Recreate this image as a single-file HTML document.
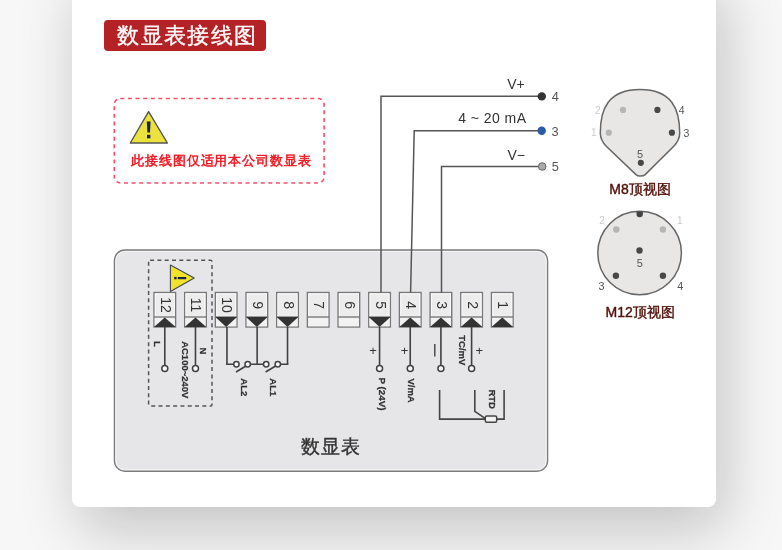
<!DOCTYPE html>
<html><head><meta charset="utf-8"><style>
html,body{margin:0;padding:0;}
body{width:782px;height:550px;overflow:hidden;position:relative;background:#f7f7f7;font-family:"Liberation Sans", sans-serif;}
.card{position:absolute;left:72px;top:-30px;width:644px;height:536.5px;background:#fff;border-radius:8px;box-shadow:8px 22px 60px rgba(20,10,10,0.22);}
.badge{position:absolute;left:104.3px;top:20.2px;width:162.4px;height:31.1px;background:#b52225;border-radius:4px;will-change:transform;}
.badge span{position:absolute;left:13.1px;top:0.1px;line-height:31px;font-size:21.6px;letter-spacing:1.45px;color:#fff;-webkit-text-stroke:0.35px #fff;white-space:nowrap;}
.dia{position:absolute;left:0;top:0;will-change:transform;}
</style></head><body>
<div class="card"></div>
<div class="badge"><span>数显表接线图</span></div>
<svg class="dia" width="782" height="550" viewBox="0 0 782 550" font-family='"Liberation Sans", sans-serif'>
<rect x="114.4" y="250" width="433.2" height="221.2" rx="10.5" fill="#e6e6e8" stroke="#7c7c7c" stroke-width="1.35"/>
<rect x="115.9" y="251.5" width="430.2" height="218.2" rx="9" fill="none" stroke="rgba(255,255,255,0.55)" stroke-width="1"/>
<rect x="148.6" y="260.2" width="63.4" height="145.9" rx="1.5" fill="none" stroke="#555" stroke-width="1.5" stroke-dasharray="4 3.3"/>
<rect x="114.3" y="98.5" width="209.8" height="84.5" rx="6" fill="none" stroke="#f0506a" stroke-width="1.6" stroke-dasharray="4 3.6"/>
<path d="M148.6 111.6 L167.4 143 L130.3 143 Z" fill="#ece23e" stroke="#555" stroke-width="1.4" stroke-linejoin="round"/>
<path d="M146.8 121.6 H150.6 L150 132.6 H147.4 Z" fill="#1b1f45"/>
<rect x="147" y="134.8" width="3.4" height="3.5" fill="#1b1f45"/>
<path d="M170.4 265 L194.2 278 L170.4 291.4 Z" fill="#f1e32a" stroke="#45465e" stroke-width="1.1" stroke-linejoin="round"/>
<rect x="174.2" y="276.9" width="2.4" height="2.4" fill="#1b1f45"/>
<rect x="177.8" y="277" width="8.4" height="2.2" fill="#1b1f45"/>
<rect x="154" y="292.5" width="21.6" height="34.5" fill="#ececec" stroke="#777" stroke-width="1.4"/><rect x="155.3" y="293.8" width="19" height="22.5" fill="none" stroke="#fafafa" stroke-width="1"/><rect x="154.7" y="317" width="20.2" height="9.3" fill="#f2f2f2"/><line x1="154" y1="317" x2="175.6" y2="317" stroke="#777" stroke-width="1.4"/><path d="M154 327 L164.8 317.5 L175.6 327 Z" fill="#333"/><text x="165.8" y="305.05" transform="rotate(90 165.8 305.05)" text-anchor="middle" dominant-baseline="central" font-size="14" fill="#333">12</text><rect x="184.68" y="292.5" width="21.6" height="34.5" fill="#ececec" stroke="#777" stroke-width="1.4"/><rect x="185.98" y="293.8" width="19" height="22.5" fill="none" stroke="#fafafa" stroke-width="1"/><rect x="185.38" y="317" width="20.2" height="9.3" fill="#f2f2f2"/><line x1="184.68" y1="317" x2="206.28" y2="317" stroke="#777" stroke-width="1.4"/><path d="M184.68 327 L195.48 317.5 L206.28 327 Z" fill="#333"/><text x="196.48" y="305.05" transform="rotate(90 196.48 305.05)" text-anchor="middle" dominant-baseline="central" font-size="14" fill="#333">11</text><rect x="215.36" y="292.5" width="21.6" height="34.5" fill="#ececec" stroke="#777" stroke-width="1.4"/><rect x="216.66" y="293.8" width="19" height="22.5" fill="none" stroke="#fafafa" stroke-width="1"/><rect x="216.06" y="317" width="20.2" height="9.3" fill="#f2f2f2"/><line x1="215.36" y1="317" x2="236.96" y2="317" stroke="#777" stroke-width="1.4"/><path d="M215.36 317 L226.16 327 L236.96 317 Z" fill="#333"/><text x="227.16" y="305.05" transform="rotate(90 227.16 305.05)" text-anchor="middle" dominant-baseline="central" font-size="14" fill="#333">10</text><rect x="246.04" y="292.5" width="21.6" height="34.5" fill="#ececec" stroke="#777" stroke-width="1.4"/><rect x="247.34" y="293.8" width="19" height="22.5" fill="none" stroke="#fafafa" stroke-width="1"/><rect x="246.74" y="317" width="20.2" height="9.3" fill="#f2f2f2"/><line x1="246.04" y1="317" x2="267.64" y2="317" stroke="#777" stroke-width="1.4"/><path d="M246.04 317 L256.84 327 L267.64 317 Z" fill="#333"/><text x="257.84" y="305.05" transform="rotate(90 257.84 305.05)" text-anchor="middle" dominant-baseline="central" font-size="14" fill="#333">9</text><rect x="276.72" y="292.5" width="21.6" height="34.5" fill="#ececec" stroke="#777" stroke-width="1.4"/><rect x="278.02" y="293.8" width="19" height="22.5" fill="none" stroke="#fafafa" stroke-width="1"/><rect x="277.42" y="317" width="20.2" height="9.3" fill="#f2f2f2"/><line x1="276.72" y1="317" x2="298.32" y2="317" stroke="#777" stroke-width="1.4"/><path d="M276.72 317 L287.52 327 L298.32 317 Z" fill="#333"/><text x="288.52" y="305.05" transform="rotate(90 288.52 305.05)" text-anchor="middle" dominant-baseline="central" font-size="14" fill="#333">8</text><rect x="307.4" y="292.5" width="21.6" height="34.5" fill="#ececec" stroke="#777" stroke-width="1.4"/><rect x="308.7" y="293.8" width="19" height="22.5" fill="none" stroke="#fafafa" stroke-width="1"/><rect x="308.1" y="317" width="20.2" height="9.3" fill="#f2f2f2"/><line x1="307.4" y1="317" x2="329" y2="317" stroke="#777" stroke-width="1.4"/><text x="319.2" y="305.05" transform="rotate(90 319.2 305.05)" text-anchor="middle" dominant-baseline="central" font-size="14" fill="#333">7</text><rect x="338.08" y="292.5" width="21.6" height="34.5" fill="#ececec" stroke="#777" stroke-width="1.4"/><rect x="339.38" y="293.8" width="19" height="22.5" fill="none" stroke="#fafafa" stroke-width="1"/><rect x="338.78" y="317" width="20.2" height="9.3" fill="#f2f2f2"/><line x1="338.08" y1="317" x2="359.68" y2="317" stroke="#777" stroke-width="1.4"/><text x="349.88" y="305.05" transform="rotate(90 349.88 305.05)" text-anchor="middle" dominant-baseline="central" font-size="14" fill="#333">6</text><rect x="368.76" y="292.5" width="21.6" height="34.5" fill="#ececec" stroke="#777" stroke-width="1.4"/><rect x="370.06" y="293.8" width="19" height="22.5" fill="none" stroke="#fafafa" stroke-width="1"/><rect x="369.46" y="317" width="20.2" height="9.3" fill="#f2f2f2"/><line x1="368.76" y1="317" x2="390.36" y2="317" stroke="#777" stroke-width="1.4"/><path d="M368.76 317 L379.56 327 L390.36 317 Z" fill="#333"/><text x="380.56" y="305.05" transform="rotate(90 380.56 305.05)" text-anchor="middle" dominant-baseline="central" font-size="14" fill="#333">5</text><rect x="399.44" y="292.5" width="21.6" height="34.5" fill="#ececec" stroke="#777" stroke-width="1.4"/><rect x="400.74" y="293.8" width="19" height="22.5" fill="none" stroke="#fafafa" stroke-width="1"/><rect x="400.14" y="317" width="20.2" height="9.3" fill="#f2f2f2"/><line x1="399.44" y1="317" x2="421.04" y2="317" stroke="#777" stroke-width="1.4"/><path d="M399.44 327 L410.24 317.5 L421.04 327 Z" fill="#333"/><text x="411.24" y="305.05" transform="rotate(90 411.24 305.05)" text-anchor="middle" dominant-baseline="central" font-size="14" fill="#333">4</text><rect x="430.12" y="292.5" width="21.6" height="34.5" fill="#ececec" stroke="#777" stroke-width="1.4"/><rect x="431.42" y="293.8" width="19" height="22.5" fill="none" stroke="#fafafa" stroke-width="1"/><rect x="430.82" y="317" width="20.2" height="9.3" fill="#f2f2f2"/><line x1="430.12" y1="317" x2="451.72" y2="317" stroke="#777" stroke-width="1.4"/><path d="M430.12 327 L440.92 317.5 L451.72 327 Z" fill="#333"/><text x="441.92" y="305.05" transform="rotate(90 441.92 305.05)" text-anchor="middle" dominant-baseline="central" font-size="14" fill="#333">3</text><rect x="460.8" y="292.5" width="21.6" height="34.5" fill="#ececec" stroke="#777" stroke-width="1.4"/><rect x="462.1" y="293.8" width="19" height="22.5" fill="none" stroke="#fafafa" stroke-width="1"/><rect x="461.5" y="317" width="20.2" height="9.3" fill="#f2f2f2"/><line x1="460.8" y1="317" x2="482.4" y2="317" stroke="#777" stroke-width="1.4"/><path d="M460.8 327 L471.6 317.5 L482.4 327 Z" fill="#333"/><text x="472.6" y="305.05" transform="rotate(90 472.6 305.05)" text-anchor="middle" dominant-baseline="central" font-size="14" fill="#333">2</text><rect x="491.48" y="292.5" width="21.6" height="34.5" fill="#ececec" stroke="#777" stroke-width="1.4"/><rect x="492.78" y="293.8" width="19" height="22.5" fill="none" stroke="#fafafa" stroke-width="1"/><rect x="492.18" y="317" width="20.2" height="9.3" fill="#f2f2f2"/><line x1="491.48" y1="317" x2="513.08" y2="317" stroke="#777" stroke-width="1.4"/><path d="M491.48 327 L502.28 317.5 L513.08 327 Z" fill="#333"/><text x="503.28" y="305.05" transform="rotate(90 503.28 305.05)" text-anchor="middle" dominant-baseline="central" font-size="14" fill="#333">1</text>
<line x1="164.8" y1="327" x2="164.8" y2="365.3" stroke="#404040" stroke-width="1.6"/><circle cx="164.8" cy="368.4" r="3" fill="#f8f8f8" stroke="#404040" stroke-width="1.5"/><line x1="195.48" y1="327" x2="195.48" y2="365.3" stroke="#404040" stroke-width="1.6"/><circle cx="195.48" cy="368.4" r="3" fill="#f8f8f8" stroke="#404040" stroke-width="1.5"/><line x1="226.96" y1="327" x2="226.96" y2="364.2" stroke="#404040" stroke-width="1.6"/><line x1="257.14" y1="327" x2="257.14" y2="364.2" stroke="#404040" stroke-width="1.6"/><line x1="287.52" y1="327" x2="287.52" y2="364.2" stroke="#404040" stroke-width="1.6"/><path d="M226.06 364.2 H233.7 M250.4 364.2 H263.5 M280.5 364.2 H288.42" stroke="#404040" stroke-width="1.6" fill="none"/><circle cx="236.4" cy="364.2" r="2.7" fill="#f8f8f8" stroke="#404040" stroke-width="1.5"/><circle cx="247.7" cy="364.2" r="2.7" fill="#f8f8f8" stroke="#404040" stroke-width="1.5"/><circle cx="266.2" cy="364.2" r="2.7" fill="#f8f8f8" stroke="#404040" stroke-width="1.5"/><circle cx="277.8" cy="364.2" r="2.7" fill="#f8f8f8" stroke="#404040" stroke-width="1.5"/><line x1="236" y1="372" x2="246" y2="366" stroke="#404040" stroke-width="1.6"/><line x1="265.6" y1="372" x2="275.6" y2="366" stroke="#404040" stroke-width="1.6"/><line x1="379.56" y1="327" x2="379.56" y2="365.6" stroke="#404040" stroke-width="1.6"/><circle cx="379.56" cy="368.6" r="3" fill="#f8f8f8" stroke="#404040" stroke-width="1.5"/><line x1="410.24" y1="327" x2="410.24" y2="365.6" stroke="#404040" stroke-width="1.6"/><circle cx="410.24" cy="368.6" r="3" fill="#f8f8f8" stroke="#404040" stroke-width="1.5"/><line x1="440.92" y1="327" x2="440.92" y2="365.6" stroke="#404040" stroke-width="1.6"/><circle cx="440.92" cy="368.6" r="3" fill="#f8f8f8" stroke="#404040" stroke-width="1.5"/><line x1="471.6" y1="327" x2="471.6" y2="365.6" stroke="#404040" stroke-width="1.6"/><circle cx="471.6" cy="368.6" r="3" fill="#f8f8f8" stroke="#404040" stroke-width="1.5"/><path d="M541.8 96.3 H381 V292.5" fill="none" stroke="#555" stroke-width="1.5"/><path d="M541.7 130.8 H414.2 L410.6 292.5" fill="none" stroke="#555" stroke-width="1.5"/><path d="M542.2 166.4 H441.5 V292.5" fill="none" stroke="#555" stroke-width="1.5"/><circle cx="541.8" cy="96.4" r="4.2" fill="#333"/><circle cx="541.7" cy="130.8" r="4.2" fill="#2b5aa6"/><circle cx="542.2" cy="166.5" r="3.8" fill="#aaa" stroke="#666" stroke-width="1"/><path d="M439.6 390 V419.1 H485.5 M474.8 390 V411.4 L485.5 418.6 M504.1 390 V419.1 H496.5" fill="none" stroke="#444" stroke-width="1.6"/><rect x="485.3" y="416" width="11.4" height="6.2" rx="1.5" fill="#f2f2f2" stroke="#444" stroke-width="1.5"/>
<text x="157.2" y="343.9" transform="rotate(90 157.2 343.9)" text-anchor="middle" dominant-baseline="central" font-size="9.5" font-weight="bold" fill="#333" stroke="#333" stroke-width="0.25">L</text><text x="203.6" y="351" transform="rotate(90 203.6 351)" text-anchor="middle" dominant-baseline="central" font-size="9.5" font-weight="bold" fill="#333" stroke="#333" stroke-width="0.25">N</text><text x="185.3" y="369.8" transform="rotate(90 185.3 369.8)" text-anchor="middle" dominant-baseline="central" font-size="9.5" font-weight="bold" fill="#333" stroke="#333" stroke-width="0.25">AC100~240V</text><text x="244.7" y="387.3" transform="rotate(90 244.7 387.3)" text-anchor="middle" dominant-baseline="central" font-size="9.5" font-weight="bold" fill="#333" stroke="#333" stroke-width="0.25">AL2</text><text x="273.1" y="387.3" transform="rotate(90 273.1 387.3)" text-anchor="middle" dominant-baseline="central" font-size="9.5" font-weight="bold" fill="#333" stroke="#333" stroke-width="0.25">AL1</text><text x="382.6" y="394" transform="rotate(90 382.6 394)" text-anchor="middle" dominant-baseline="central" font-size="9.8" font-weight="bold" fill="#333" stroke="#333" stroke-width="0.25">P (24V)</text><text x="411.5" y="390.6" transform="rotate(90 411.5 390.6)" text-anchor="middle" dominant-baseline="central" font-size="9.5" font-weight="bold" fill="#333" stroke="#333" stroke-width="0.25">V/mA</text><text x="462.5" y="350.3" transform="rotate(90 462.5 350.3)" text-anchor="middle" dominant-baseline="central" font-size="9.5" font-weight="bold" fill="#333" stroke="#333" stroke-width="0.25">TC/mV</text><text x="492.2" y="399.2" transform="rotate(90 492.2 399.2)" text-anchor="middle" dominant-baseline="central" font-size="9.5" font-weight="bold" fill="#333" stroke="#333" stroke-width="0.25">RTD</text><text x="373" y="350.8" text-anchor="middle" dominant-baseline="central" font-size="13" fill="#333">+</text><text x="404.6" y="350.8" text-anchor="middle" dominant-baseline="central" font-size="13" fill="#333">+</text><text x="479.4" y="350.8" text-anchor="middle" dominant-baseline="central" font-size="13" fill="#333">+</text><line x1="434.8" y1="344" x2="434.8" y2="356.6" stroke="#333" stroke-width="1.3"/><text x="507.2" y="89.4" font-size="14" fill="#333">V+</text><text x="458.2" y="123.2" font-size="14" letter-spacing="0.45" fill="#333">4 ~ 20 mA</text><text x="507.5" y="160" font-size="14" fill="#333">V&#8722;</text><text x="551.8" y="101" font-size="12.8" fill="#555">4</text><text x="551.4" y="135.5" font-size="12.8" fill="#555">3</text><text x="551.8" y="171.2" font-size="12.8" fill="#555">5</text>
<path d="M640 89.4 C671.8 89.4 679.7 109 679.7 133 C679.7 139 677 143 673.5 146.5 L645.2 174.6 C643 176.6 638.2 176.6 636 174.6 L606.5 146.5 C603 143 600.3 139 600.3 133 C600.3 109 608.2 89.4 640 89.4 Z" fill="#e9e7e5" stroke="#666" stroke-width="1.5"/><circle cx="623" cy="109.9" r="3.1" fill="#b5b5b5"/><circle cx="608.8" cy="132.7" r="3.1" fill="#b5b5b5"/><circle cx="657.4" cy="109.9" r="3.1" fill="#484848"/><circle cx="671.9" cy="132.7" r="3.1" fill="#484848"/><circle cx="640.8" cy="162.8" r="3.1" fill="#484848"/><text x="597.8" y="113.7" text-anchor="middle" font-size="10" fill="#cacaca">2</text><text x="593.9" y="135.9" text-anchor="middle" font-size="10" fill="#cacaca">1</text><text x="681.6" y="113.6" text-anchor="middle" font-size="10.5" fill="#555">4</text><text x="686.5" y="136.5" text-anchor="middle" font-size="10.5" fill="#555">3</text><text x="640" y="158" text-anchor="middle" font-size="11" fill="#555">5</text><text x="640" y="193.7" text-anchor="middle" font-size="14" fill="#52100a" stroke="#52100a" stroke-width="0.4">M8顶视图</text><circle cx="639.6" cy="253" r="41.8" fill="#e9e7e5" stroke="#666" stroke-width="1.5"/><path d="M636.5 211.5 V214 A3.2 3.2 0 0 0 642.9 214 V211.5 Z" fill="#444"/><circle cx="616.3" cy="229.5" r="3.2" fill="#b5b5b5"/><circle cx="662.9" cy="229.5" r="3.2" fill="#b5b5b5"/><circle cx="639.5" cy="250.5" r="3.2" fill="#484848"/><circle cx="615.9" cy="275.8" r="3.2" fill="#484848"/><circle cx="662.9" cy="275.8" r="3.2" fill="#484848"/><text x="602.1" y="224.2" text-anchor="middle" font-size="10" fill="#cacaca">2</text><text x="679.8" y="224.2" text-anchor="middle" font-size="10" fill="#cacaca">1</text><text x="639.7" y="266.8" text-anchor="middle" font-size="11" fill="#555">5</text><text x="601.6" y="290.2" text-anchor="middle" font-size="10.8" fill="#555">3</text><text x="680.2" y="290.2" text-anchor="middle" font-size="10.8" fill="#555">4</text><text x="640.1" y="317.4" text-anchor="middle" font-size="14" fill="#52100a" stroke="#52100a" stroke-width="0.4">M12顶视图</text>
<text x="331.2" y="452.9" text-anchor="middle" font-size="18.6" letter-spacing="1.2" fill="#333" stroke="#333" stroke-width="0.4">数显表</text>
<text x="130.8" y="165.2" font-size="12.9" letter-spacing="0.95" fill="#f0151f" stroke="#f0151f" stroke-width="0.5">此接线图仅适用本公司数显表</text>
</svg>
</body></html>
